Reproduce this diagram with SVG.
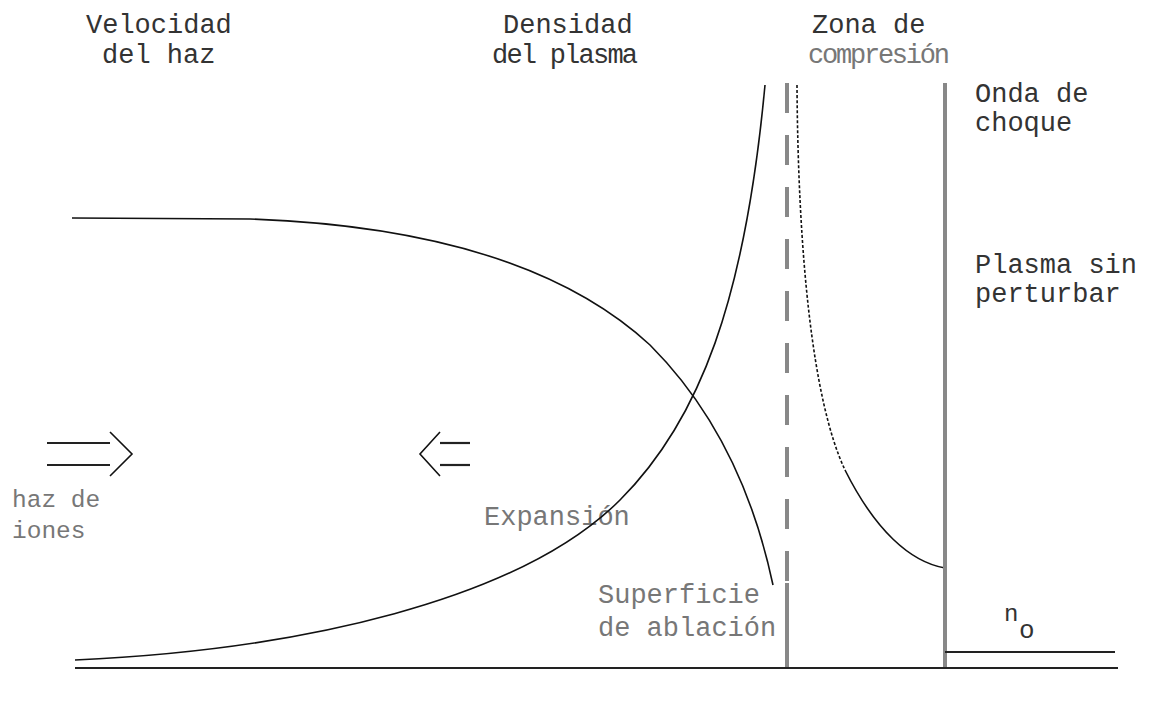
<svg xmlns="http://www.w3.org/2000/svg" width="1152" height="701" viewBox="0 0 1152 701">
<style>
.t{font-family:"Liberation Mono","DejaVu Sans Mono",monospace;font-size:27px;fill:#333}
.f{fill:#777}
.c{fill:none;stroke:#111;stroke-width:1.6}
.g{fill:none;stroke:#888;stroke-width:4}
.k{fill:none;stroke:#222;stroke-width:2.2}
</style>
<rect width="1152" height="701" fill="#fff"/>
<g id="labels">
<text class="t" x="86" y="33">Velocidad</text>
<text class="t" x="102" y="63">del haz</text>
<text class="t" x="503" y="33">Densidad</text>
<text class="t" x="492" y="63" textLength="146">del plasma</text>
<text class="t" x="812" y="33">Zona de</text>
<text class="t f" x="808" y="63" textLength="142">compresión</text>
<text class="t" x="975" y="102">Onda de</text>
<text class="t" x="975" y="131">choque</text>
<text class="t" x="975" y="273">Plasma sin</text>
<text class="t" x="975" y="302">perturbar</text>
<text class="t f" x="12" y="507" style="font-size:24.5px">haz de</text>
<text class="t f" x="12" y="538" style="font-size:24.5px">iones</text>
<text class="t f" x="484" y="525">Expansión</text>
<text class="t f" x="598" y="603">Superficie</text>
<text class="t f" x="598" y="636">de ablación</text>
<text class="t" x="1004" y="621" style="font-size:24px">n</text>
<text class="t" x="1019" y="638" style="font-size:26px">o</text>
</g>
<g id="connectors">
<path id="velocidad" class="c" d="M72,218 L250,219 C420,225 560,262 650,345 C720,415 755,500 773,585"/>
<path id="densidad" class="c" d="M75,660 C300,650 520,600 620,500 C700,420 745,300 765,85"/>
<path id="compresion" class="c" stroke-dasharray="3 2" d="M797,85 C798,250 812,400 845,470"/>
<path id="compresion2" class="c" d="M845,470 C875,530 910,562 945,568"/>
<line id="ablacion-dashed" class="g" x1="787" y1="83" x2="787" y2="583" stroke-dasharray="30 22"/>
<line id="ablacion" class="g" x1="787" y1="583" x2="787" y2="668"/>
<line id="choque" class="g" x1="945" y1="83" x2="945" y2="668"/>
<line id="n0" class="k" x1="945" y1="652" x2="1115" y2="652"/>
<line id="axis" class="k" x1="75" y1="668" x2="1118" y2="668"/>
</g>
<g id="arrow-haz">
<line class="k" x1="47" y1="443" x2="110" y2="443"/>
<line class="k" x1="47" y1="465" x2="110" y2="465"/>
<polyline class="c" points="110,432 132,454 110,476"/>
</g>
<g id="arrow-expansion">
<line class="k" x1="440" y1="443" x2="470" y2="443"/>
<line class="k" x1="440" y1="465" x2="470" y2="465"/>
<polyline class="c" points="440,432 420,454 440,476"/>
</g>
</svg>
